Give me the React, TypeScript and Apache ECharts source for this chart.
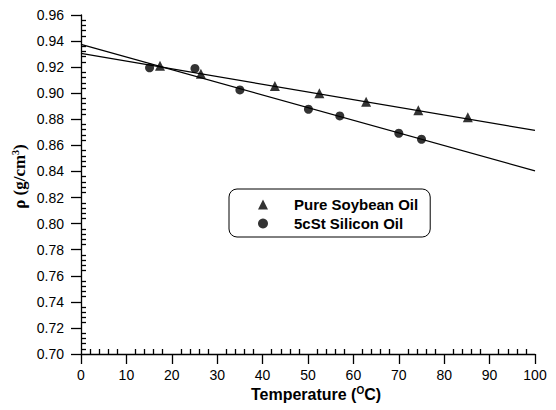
import React, { useEffect, useRef } from "react";
import * as echarts from "echarts";

const soyT = [17.4, 26.4, 42.7, 52.5, 62.8, 74.3, 85.2];
const soyRho = [0.921, 0.915, 0.9055, 0.9, 0.8935, 0.887, 0.8815];
const silT = [15.1, 25.1, 35.0, 50.1, 57.0, 70.0, 75.0];
const silRho = [0.9195, 0.919, 0.9025, 0.8877, 0.8826, 0.8693, 0.8647];
const fitT = [0, 100];
const soyFit = [0.9305, 0.8715];
const silFit = [0.9375, 0.8405];
const seriesNames = ["Pure Soybean Oil", "5cSt Silicon Oil"];

const pair = (xs: number[], ys: number[]) => xs.map((x, i) => [x, ys[i]]);

export default function App() {
  const ref = useRef<HTMLDivElement>(null);
  useEffect(() => {
    if (!ref.current) return;
    const chart = echarts.init(ref.current, null, { renderer: "svg" });
    const sans = "'Liberation Sans', Arial, sans-serif";
    const serif = "'Liberation Serif', 'Times New Roman', serif";
    const black = { color: "#000", width: 1.3 };
    const xRange = { type: "value", min: 0, max: 100, interval: 10 };
    const yRange = { type: "value", min: 0.7, max: 0.96, interval: 0.02 };
    const minorOnly = {
      axisLine: { show: false },
      axisLabel: { show: false },
      axisTick: { show: false, inside: true },
      minorTick: { show: true, splitNumber: 5, length: 5, lineStyle: black },
      splitLine: { show: false },
      minorSplitLine: { show: false },
    };
    chart.setOption({
      animation: false,
      backgroundColor: "#fff",
      grid: { left: 81, right: 21, top: 15, bottom: 56, containLabel: false },
      xAxis: [
        {
          ...xRange,
          position: "bottom",
          axisLine: { show: true, lineStyle: black },
          axisTick: { show: true, length: 10, lineStyle: black },
          minorTick: { show: false },
          splitLine: { show: false },
          axisLabel: { color: "#000", fontSize: 14, fontFamily: sans, margin: 14 },
          name: "{a|Temperature (}{s|O}{a|C)}",
          nameLocation: "middle",
          nameGap: 31,
          nameMoveOverlap: false,
          nameTextStyle: {
            padding: [0, 0, 0, 16],
            rich: {
              a: { fontSize: 16, fontWeight: "bold", fontFamily: sans, color: "#000", lineHeight: 18 },
              s: { fontSize: 10, fontWeight: "bold", fontFamily: sans, color: "#000", verticalAlign: "top", lineHeight: 12 },
            },
          },
        },
        { ...xRange, position: "bottom", ...minorOnly },
      ],
      yAxis: [
        {
          ...yRange,
          position: "left",
          axisLine: { show: true, lineStyle: black },
          axisTick: { show: true, length: 10, lineStyle: black },
          minorTick: { show: false },
          splitLine: { show: false },
          axisLabel: {
            color: "#000",
            fontSize: 14,
            fontFamily: sans,
            margin: 17,
            formatter: (v: number) => v.toFixed(2),
          },
          name: "{a|ρ (g/cm}{s|3}{a|)}",
          nameLocation: "middle",
          nameGap: 53,
          nameMoveOverlap: false,
          nameTextStyle: {
            padding: [0, 0, 0, 16],
            rich: {
              a: { fontSize: 17, fontWeight: "bold", fontFamily: serif, color: "#000", lineHeight: 18 },
              s: { fontSize: 10, fontWeight: "bold", fontFamily: serif, color: "#000", verticalAlign: "top", lineHeight: 12 },
            },
          },
        },
        { ...yRange, position: "left", ...minorOnly },
      ],
      legend: {
        data: [
          { name: seriesNames[0], icon: "triangle" },
          { name: seriesNames[1], icon: "circle" },
        ],
        orient: "vertical",
        left: 229,
        top: 189,
        itemWidth: 10,
        itemHeight: 10,
        itemGap: 2,
        padding: [7, 12, 5, 29],
        borderColor: "#000",
        borderWidth: 1,
        borderRadius: 8,
        backgroundColor: "#fff",
        textStyle: {
          color: "#000",
          fontSize: 15,
          fontWeight: "bold",
          fontFamily: sans,
          padding: [0, 0, 0, 21],
          lineHeight: 17,
        },
      },
      series: [
        {
          type: "line",
          data: pair(fitT, soyFit),
          showSymbol: false,
          symbol: "none",
          lineStyle: { color: "#000", width: 1.2 },
          silent: true,
          z: 1,
        },
        {
          type: "line",
          data: pair(fitT, silFit),
          showSymbol: false,
          symbol: "none",
          lineStyle: { color: "#000", width: 1.2 },
          silent: true,
          z: 1,
        },
        {
          name: seriesNames[0],
          type: "scatter",
          data: pair(soyT, soyRho),
          symbol: "triangle",
          symbolSize: 10,
          itemStyle: { color: "#000" },
          z: 3,
        },
        {
          name: seriesNames[1],
          type: "scatter",
          data: pair(silT, silRho),
          symbol: "circle",
          symbolSize: 9,
          itemStyle: { color: "#000" },
          z: 3,
        },
      ],
    });
    return () => chart.dispose();
  }, []);
  return (
    <div
      ref={ref}
      style={{ position: "fixed", left: 0, top: 0, width: 556, height: 410 }}
    />
  );
}
